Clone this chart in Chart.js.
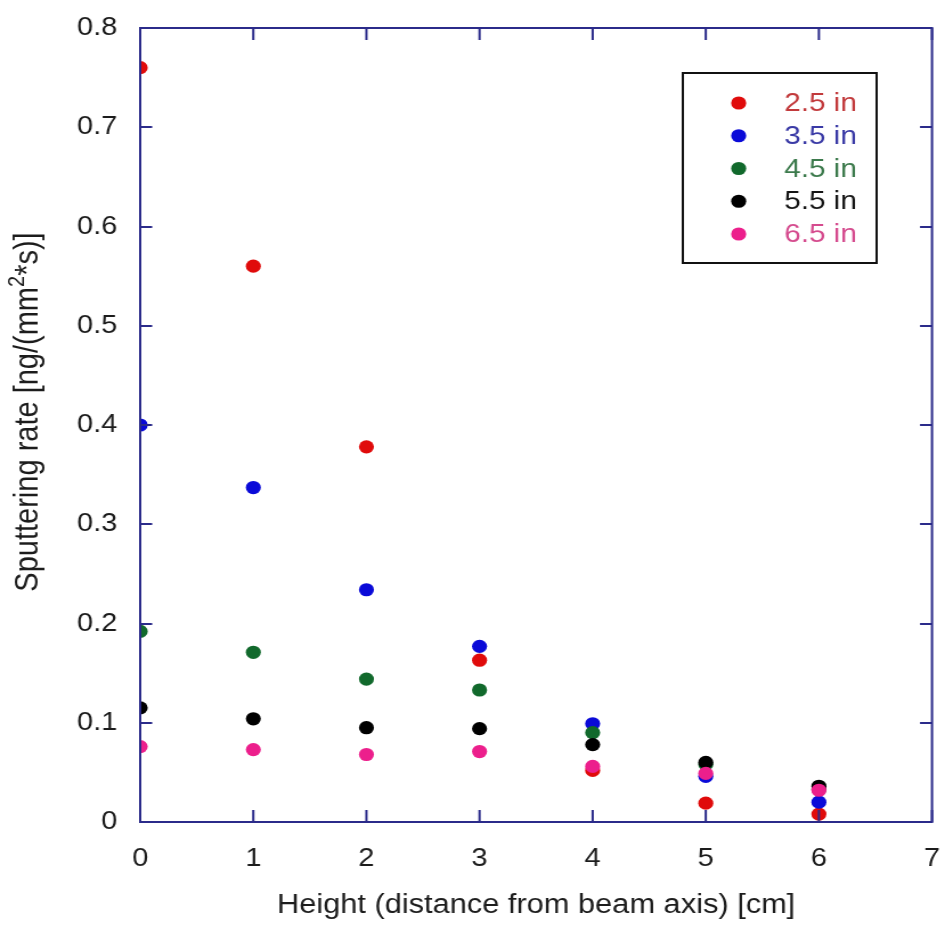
<!DOCTYPE html>
<html>
<head>
<meta charset="utf-8">
<title>Sputtering rate vs height</title>
<script src="https://cdn.jsdelivr.net/npm/chart.js@4.4.1/dist/chart.umd.min.js"></script>
<style>
  html, body { margin: 0; padding: 0; background: #fff; }
  #wrap { position: relative; width: 945px; height: 931px; overflow: hidden; }
  /* drawn on a narrower canvas and widened, which gives the wide lettering */
  #chart { display: block; width: 945px; height: 931px; }
</style>
</head>
<body>
<div id="wrap"><canvas id="chart" width="829" height="931" style="width:945px;height:931px"></canvas></div>
<script>
// Heights along the beam axis [cm]
const heights = [0, 1, 2, 3, 4, 5, 6];

// Sputtering rate [ng/(mm^2*s)] for each target distance
const rate25 = [0.760, 0.560, 0.378, 0.163, 0.052, 0.019, 0.008];
const rate35 = [0.400, 0.337, 0.234, 0.177, 0.099, 0.046, 0.020];
const rate45 = [0.192, 0.171, 0.144, 0.133, 0.090, 0.058, 0.033];
const rate55 = [0.115, 0.104, 0.095, 0.094, 0.078, 0.060, 0.036];
const rate65 = [0.076, 0.073, 0.068, 0.071, 0.056, 0.049, 0.032];

const seriesNames = ['2.5 in', '3.5 in', '4.5 in', '5.5 in', '6.5 in'];
const markerColors = ['#e00b0b', '#0a0ad8', '#11692c', '#000000', '#ec1f8c'];
const textColors = ['#c23a3c', '#3a3aa6', '#3c7a4c', '#151515', '#d54b8e'];

const xTicks = [0, 1, 2, 3, 4, 5, 6, 7];
const yTicks = [0, 0.1, 0.2, 0.3, 0.4, 0.5, 0.6, 0.7, 0.8];

const AXIS = '#2b2b8a';
const INK = '#1c1c1c';
const FONT = '"Liberation Sans", Arial, sans-serif';

function toPoints(ys) {
  return heights.map((h, i) => ({ x: h, y: ys[i] }));
}

const allRates = [rate25, rate35, rate45, rate55, rate65];

const datasets = allRates.map((ys, i) => ({
  label: seriesNames[i],
  data: toPoints(ys),
  backgroundColor: markerColors[i],
  borderColor: markerColors[i],
  borderWidth: 0,
  pointRadius: 6.6,
  pointHoverRadius: 6.6,
  showLine: false,
  order: allRates.length - i   // later series drawn on top
}));

// keep the plot box exactly where the layout padding puts it
function fixBox(h) {
  return scale => {
    if (h) scale.height = h; else scale.width = 123;
    scale.paddingTop = scale.paddingBottom = 0;
    scale.paddingLeft = scale.paddingRight = 0;
  };
}

// y title with a raised exponent, drawn by hand
function drawYTitle(ctx) {
  const parts = [['Sputtering rate [ng/(mm', 29, 0], ['2', 20, -9], ['*s)]', 29, 0]];
  ctx.save();
  ctx.translate(24.6, 412);
  ctx.rotate(-Math.PI / 2);
  ctx.fillStyle = INK;
  ctx.textBaseline = 'middle';
  ctx.textAlign = 'left';
  let total = 0;
  parts.forEach(([t, s]) => { ctx.font = s + 'px ' + FONT; total += ctx.measureText(t).width; });
  let x = -total / 2;
  parts.forEach(([t, s, dy]) => {
    ctx.font = s + 'px ' + FONT;
    ctx.fillText(t, x, dy);
    x += ctx.measureText(t).width;
  });
  ctx.restore();
}

// frame with inward ticks on all four sides, plus the boxed legend
const framePlugin = {
  id: 'frame',
  afterDatasetsDraw(chart) {
    const { ctx, chartArea: a, scales } = chart;
    ctx.save();
    ctx.strokeStyle = AXIS;
    ctx.lineWidth = 2;
    ctx.strokeRect(a.left, a.top, a.right - a.left, a.bottom - a.top);
    ctx.beginPath();
    xTicks.forEach(v => {
      const px = scales.x.getPixelForValue(v);
      ctx.moveTo(px, a.bottom); ctx.lineTo(px, a.bottom - 12);
      ctx.moveTo(px, a.top); ctx.lineTo(px, a.top + 12);
    });
    yTicks.forEach(v => {
      const py = Math.round(scales.y.getPixelForValue(v));
      ctx.moveTo(a.left, py); ctx.lineTo(a.left + 10.5, py);
      ctx.moveTo(a.right, py); ctx.lineTo(a.right - 10.5, py);
    });
    ctx.stroke();

    // legend box
    const bx = 599, by = 73, bw = 170, bh = 190;
    ctx.fillStyle = '#fff';
    ctx.fillRect(bx, by, bw, bh);
    ctx.strokeStyle = '#111';
    ctx.lineWidth = 2;
    ctx.strokeRect(bx, by, bw, bh);
    ctx.font = '26px ' + FONT;
    ctx.textBaseline = 'middle';
    ctx.textAlign = 'left';
    seriesNames.forEach((name, i) => {
      const cy = 103 + i * 32.75;
      ctx.fillStyle = markerColors[i];
      ctx.beginPath();
      ctx.arc(648, cy, 6.6, 0, Math.PI * 2);
      ctx.fill();
      ctx.fillStyle = textColors[i];
      ctx.fillText(name, 688, cy + 1);
    });
    ctx.restore();

    drawYTitle(ctx);
  }
};

new Chart(document.getElementById('chart'), {
  type: 'scatter',
  data: { datasets },
  options: {
    responsive: false,
    animation: false,
    layout: { padding: { left: 0, right: 11.4, top: 28, bottom: 0 } },
    plugins: {
      legend: { display: false },
      tooltip: { enabled: false }
    },
    scales: {
      x: {
        type: 'linear',
        min: 0,
        max: 7,
        afterFit: fixBox(109),
        afterBuildTicks(scale) { scale.ticks = xTicks.map(v => ({ value: v })); },
        grid: { display: false, drawTicks: false },
        border: { display: false },
        ticks: {
          padding: 22,
          color: INK,
          font: { family: FONT, size: 25.5 },
          callback: v => String(v)
        },
        title: {
          display: true,
          text: 'Height (distance from beam axis) [cm]',
          color: INK,
          font: { family: FONT, size: 27 },
          padding: { top: 0, bottom: 9 }
        }
      },
      y: {
        type: 'linear',
        min: 0,
        max: 0.8,
        afterFit: fixBox(0),
        afterBuildTicks(scale) { scale.ticks = yTicks.map(v => ({ value: v })); },
        grid: { display: false, drawTicks: false },
        border: { display: false },
        ticks: {
          padding: 20,
          color: INK,
          font: { family: FONT, size: 25.5 },
          callback: v => (v === 0 ? '0' : Number(v).toFixed(1))
        },
        title: { display: false }
      }
    }
  },
  plugins: [framePlugin]
});
</script>
</body>
</html>
